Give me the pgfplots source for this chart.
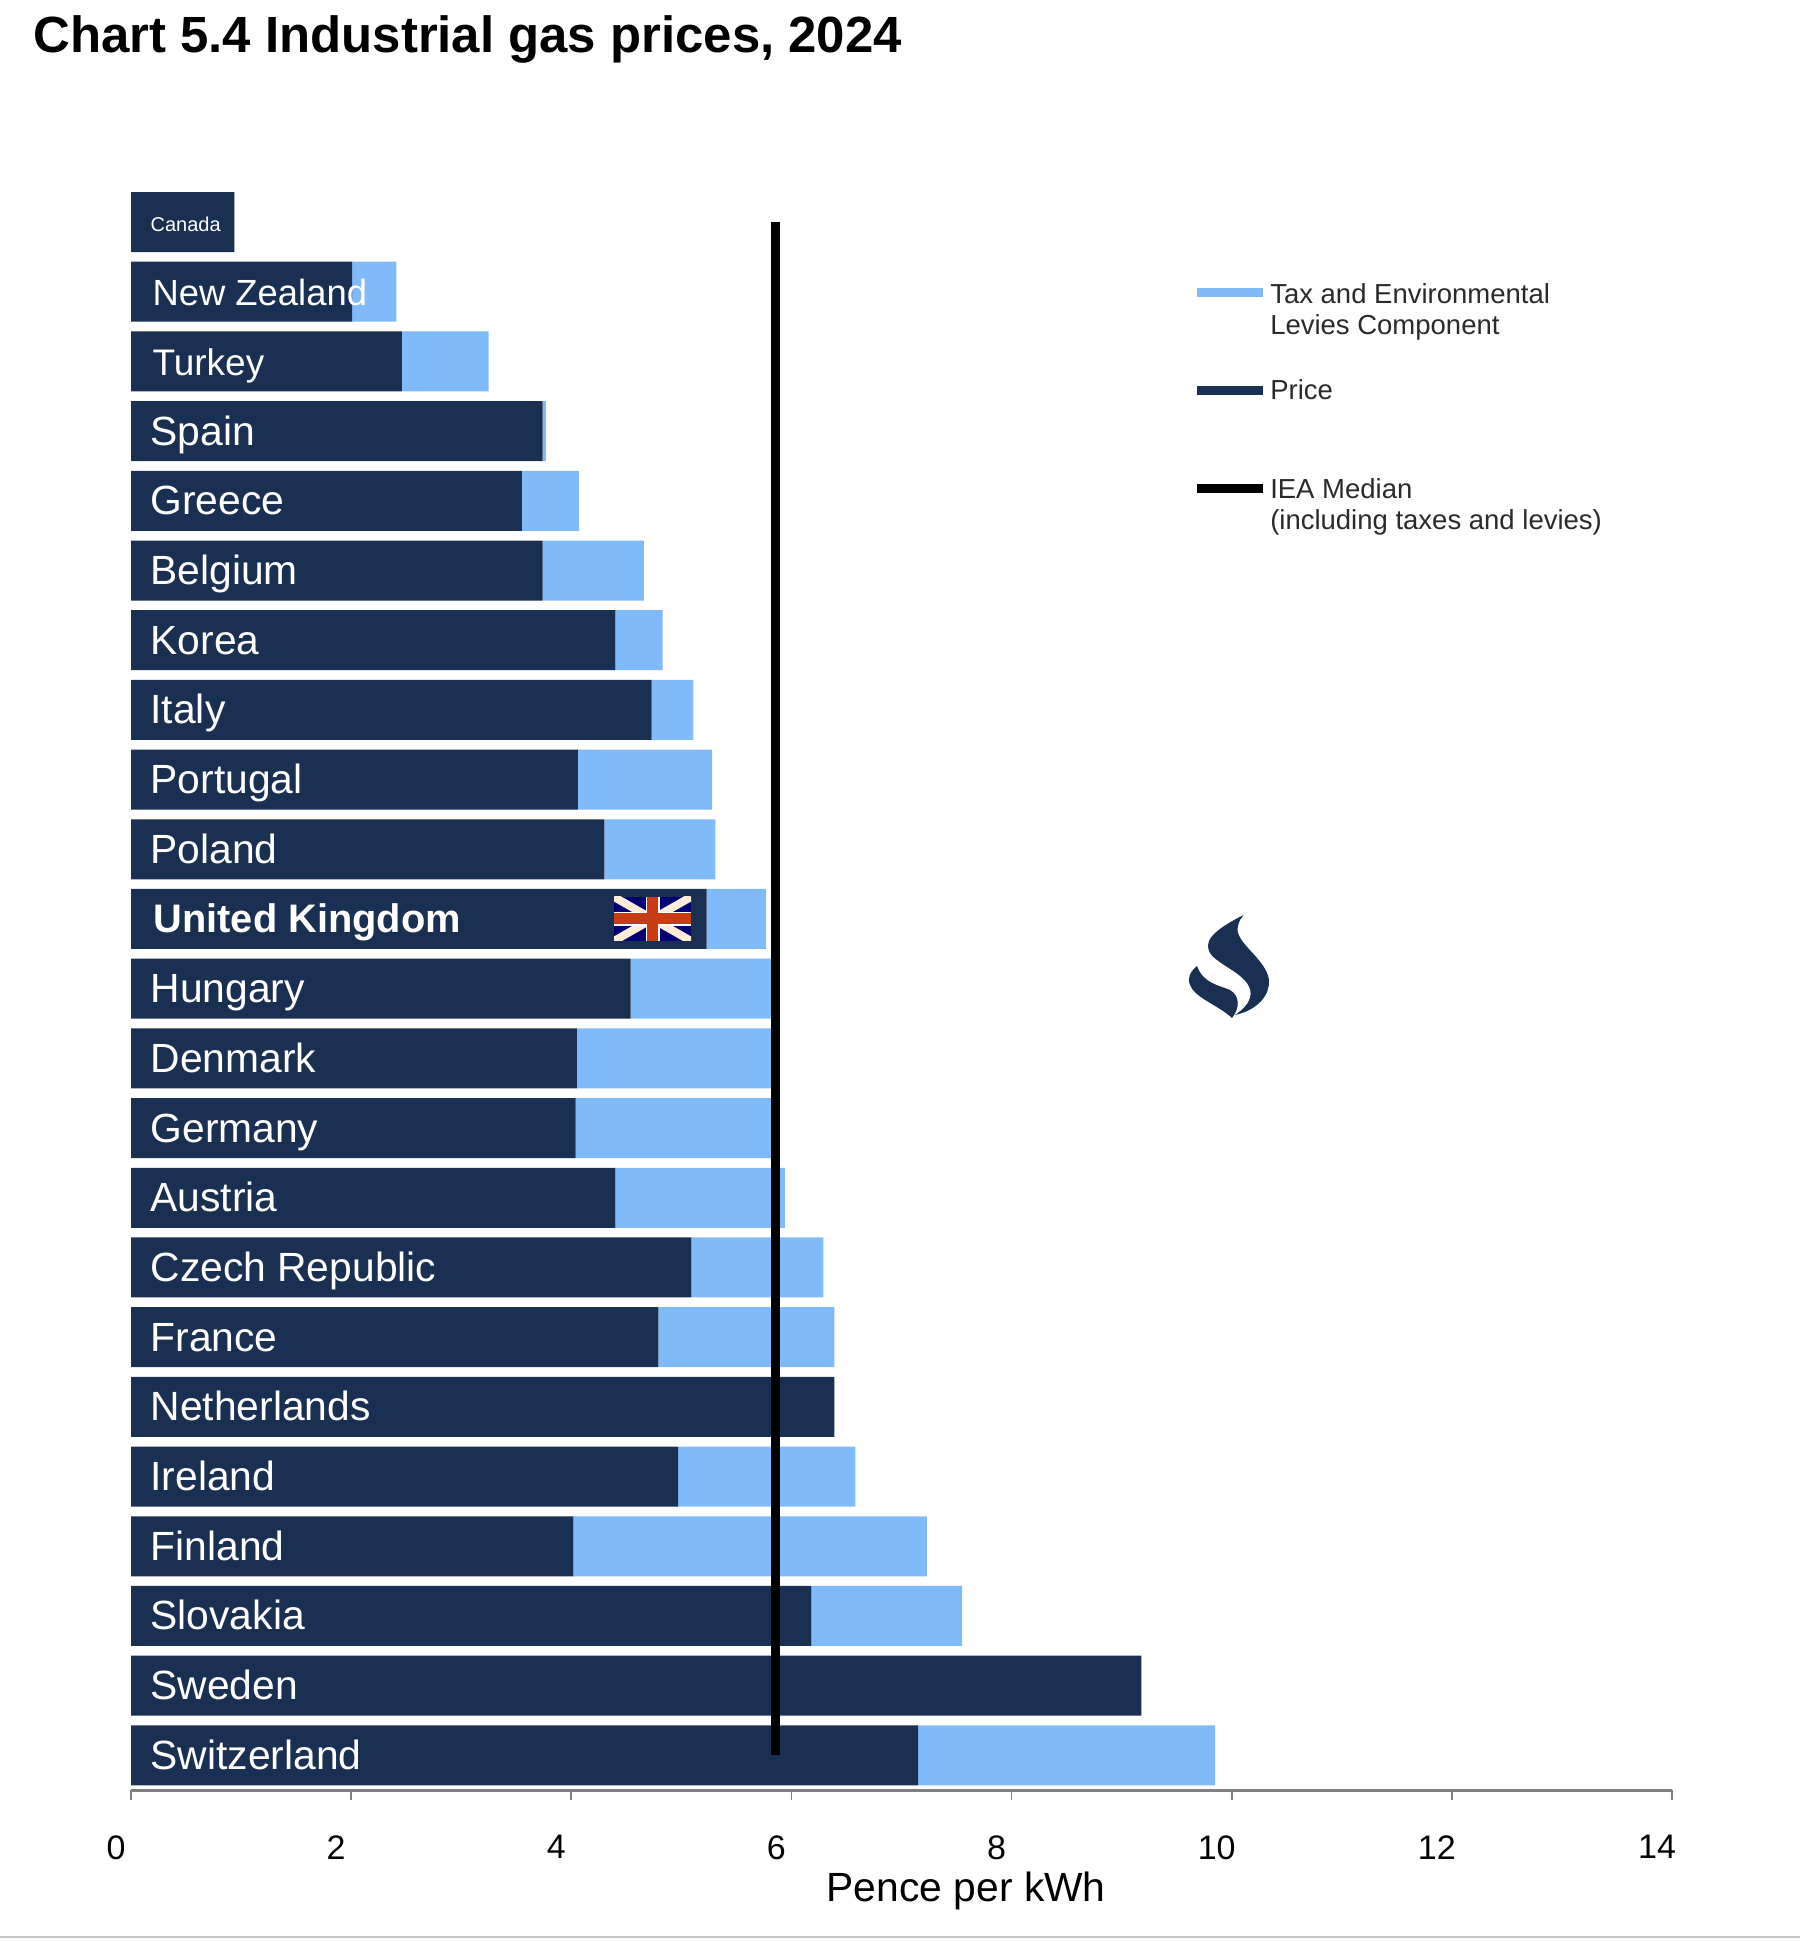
\documentclass[border=0pt]{standalone}
\usepackage{fontspec}
\setmainfont{Liberation Sans}
\usepackage{pgfplots}
\usepackage{pgfplotstable}
\pgfplotsset{compat=1.18}
\definecolor{pricecol}{HTML}{1A3052}
\definecolor{taxcol}{HTML}{80BAF9}
\definecolor{legtext}{HTML}{2A2A2A}

% y runs from the bottom bar (Switzerland) up to Canada
\pgfplotstableread{
idx price tax
0  7.15 2.70
1  9.18 0.00
2  6.18 1.37
3  4.02 3.21
4  4.97 1.61
5  6.39 0.00
6  4.79 1.60
7  5.09 1.20
8  4.40 1.54
9  4.04 1.81
10 4.05 1.80
11 4.54 1.31
12 5.23 0.54
13 4.30 1.01
14 4.06 1.22
15 4.73 0.38
16 4.40 0.43
17 3.74 0.92
18 3.55 0.52
19 3.74 0.03
20 2.46 0.79
21 2.01 0.40
22 0.94 0.00
}\gasdata

\begin{document}
\begin{tikzpicture}
\path[use as bounding box] (0,0) rectangle (900pt,971pt);
\begin{axis}[
    name=main,
    at={(65.5pt,75.9pt)},
    anchor=south west,
    scale only axis,
    width=770.5pt,
    height=801.5pt,
    xbar stacked,
    bar width=30pt,
    xmin=0, xmax=14,
    ymin=-0.5, ymax=22.5,
    axis on top,
    axis x line*=bottom,
    axis y line*=left,
    x axis line style={draw=gray, line width=1.5pt},
    y axis line style={draw=none},
    xtick={0,2,...,14},
    tick align=outside,
    major tick length=5pt,
    xtick style={draw=gray, line width=0.8pt},
    ytick style={draw=none},
    ytick={0,...,22},
    yticklabels={Switzerland,Sweden,Slovakia,Finland,Ireland,Netherlands,France,
        Czech Republic,Austria,Germany,Denmark,Hungary,
        \hspace*{1.5pt}{\fontsize{19.9}{24}\selectfont\textbf{United Kingdom}},Poland,
        Portugal,Italy,Korea,Belgium,Greece,Spain,
        \hspace*{1pt}{\fontsize{18.5}{24}\selectfont Turkey},
        \hspace*{1pt}{\fontsize{18.2}{24}\selectfont New Zealand},
        {\raisebox{2.5pt}{\fontsize{10}{12}\selectfont Canada}}},
    yticklabel style={anchor=base west, text=white, font=\fontsize{20.4}{24}\selectfont,
        inner sep=0pt, xshift=14.6pt, yshift=-7pt},
    xticklabel style={font=\fontsize{17}{20}\selectfont, xshift=-7.5pt, yshift=-14pt},
    /pgf/number format/assume math mode=true,
    xlabel={Pence per kWh},
    xlabel style={at={(axis description cs:0.542,-0.063)}, anchor=center,
        font=\fontsize{20.4}{24}\selectfont},
    legend style={at={(axis description cs:0.6888,0.9415)}, anchor=north west, draw=none,
        fill=none, inner sep=0pt, row sep=37pt,
        nodes={inner sep=0pt, text=legtext, font=\fontsize{13.75}{15.5}\selectfont}},
    legend cell align=left,
]
% stacked axes draw their plots last to first, so the median goes first to end up on top
\addplot[forget plot, stack plots=false, sharp plot, black, line width=4.3pt, mark=none]
    coordinates {(5.855,0) (5.855,22)};
\addplot[forget plot, fill=pricecol, draw=none] table[x=price, y=idx] {\gasdata};
\addplot[forget plot, fill=taxcol, draw=none] table[x=tax, y=idx] {\gasdata};
\addlegendimage{legend image code/.code={\draw[taxcol, line width=4.5pt] (0pt,0.6pt) -- (33pt,0.6pt);}}
\addlegendentry{\hspace*{1.2pt}\begin{tabular}[t]{@{}l@{}}Tax and Environmental\\Levies Component\end{tabular}}
\addlegendimage{legend image code/.code={\draw[pricecol, line width=4.5pt] (0pt,0.6pt) -- (33pt,0.6pt);}}
\addlegendentry{\hspace*{1.2pt}Price}
\addlegendimage{legend image code/.code={\draw[black, line width=4.5pt] (0pt,0.6pt) -- (33pt,0.6pt);}}
\addlegendentry{\hspace*{1.2pt}\begin{tabular}[t]{@{}l@{}}IEA Median\\(including taxes and levies)\end{tabular}}
\end{axis}
% everything below is placed in reference pixels, origin top left
\begin{scope}[x=0.5pt, y=-0.5pt, shift={(0pt,971pt)}]
\node[anchor=base west, inner sep=0pt, font=\fontsize{25.45}{30}\selectfont\bfseries] at (33,53)
    {Chart 5.4 Industrial gas prices, 2024};
\draw[gray!45, line width=1pt] (0,1937) -- (1800,1937);
% flag
\begin{scope}
\clip (614,897) rectangle (691,941);
\fill[blue!45!black] (614,897) rectangle (691,941);
\draw[white!85!orange, line width=4pt] (614,897) -- (691,941) (614,941) -- (691,897);
\draw[white, line width=7pt] (652.5,897) -- (652.5,941) (614,919) -- (691,919);
\definecolor{flagred}{HTML}{C83C14}
\draw[flagred, line width=5.5pt] (652.5,897) -- (652.5,941) (614,919) -- (691,919);
\end{scope}
% flame logo
\fill[pricecol] (1243.5,915) .. controls (1222,926) and (1203,938) .. (1209,951)
    .. controls (1215,966) and (1256,975) .. (1250,998)
    .. controls (1248,1005) and (1242,1010) .. (1235,1015)
    .. controls (1258,1010) and (1270,995) .. (1269,980)
    .. controls (1266,958) and (1233,942) .. (1238,926)
    .. controls (1239,921) and (1241,918) .. (1243.5,915) -- cycle;
\fill[pricecol] (1197,966) .. controls (1190,972) and (1187,978) .. (1190,985)
    .. controls (1195,998) and (1218,1005) .. (1232,1018)
    .. controls (1240,1008) and (1240,996) .. (1230,990)
    .. controls (1218,985) and (1203,983) .. (1197,966) -- cycle;
\end{scope}
\end{tikzpicture}
\end{document}
